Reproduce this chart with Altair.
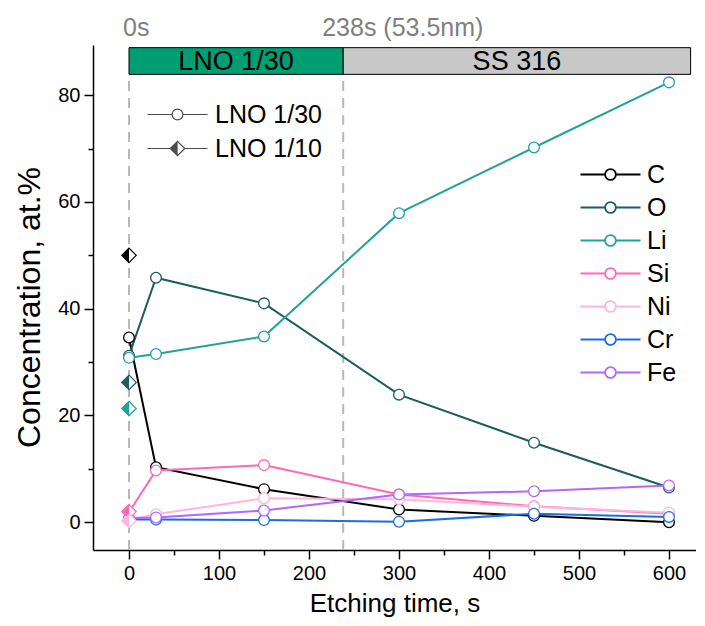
import altair as alt
import pandas as pd

# ---------------- data ----------------
times = [0, 30, 150, 300, 450, 600]
elements = ["C", "O", "Li", "Si", "Ni", "Cr", "Fe"]
conc_C = [34.6, 10.3, 6.2, 2.4, 1.2, 0.0]
conc_O = [31.2, 45.8, 41.0, 23.9, 14.9, 6.5]
conc_Li = [30.8, 31.5, 34.8, 57.9, 70.2, 82.4]
conc_Si = [1.9, 9.7, 10.7, 5.2, 3.0, 1.6]
conc_Ni = [0.4, 1.5, 4.5, 4.3, 2.9, 1.8]
conc_Cr = [0.5, 0.5, 0.4, 0.1, 1.6, 1.0]
conc_Fe = [0.8, 0.9, 2.2, 5.2, 5.8, 6.9]
element_colors = ["#000000", "#1b5e57", "#20a39a", "#ff69b4", "#ffb6d9", "#1a6fe0", "#b266ff"]

lno110_elements = ["C", "O", "Li", "Si", "Ni"]
lno110_values = [50.0, 26.2, 21.3, 2.0, 0.3]
lno110_time = 0

samples = ["LNO 1/30", "LNO 1/10"]
stage_names = ["LNO 1/30", "SS 316"]
stage_start = [0, 238]
stage_end = [238, 624]
stage_colors = ["#009E73", "#C8C8C8"]
boundary_times = [0, 238]
boundary_labels = ["0s", "238s (53.5nm)"]

# ---------------- layout constants ----------------
FONT = "Liberation Sans"
X_MIN, X_MAX = -40, 630
Y_MIN, Y_MAX = -5.2, 89.4
BAR_Y0, BAR_Y1 = 83.9, 88.9
LABEL_Y = 92.5
LABEL_DX = [-6, -21]

series = dict(zip(elements, [conc_C, conc_O, conc_Li, conc_Si, conc_Ni, conc_Cr, conc_Fe]))
df = pd.DataFrame([
    {"element": e, "time": t, "value": v}
    for e in elements for t, v in zip(times, series[e])
])
df_d = pd.DataFrame({"element": lno110_elements, "time": [lno110_time] * len(lno110_elements),
                     "value": lno110_values})
df_stage = pd.DataFrame({"name": stage_names, "start": stage_start, "end": stage_end})
df_bound = pd.DataFrame({"time": boundary_times, "label": boundary_labels})
df_samples = pd.DataFrame({"sample": samples})

xs = alt.Scale(domain=[X_MIN, X_MAX], nice=False, zero=False)
ys = alt.Scale(domain=[Y_MIN, Y_MAX], nice=False, zero=False)
cs = alt.Scale(domain=elements, range=element_colors)

x_axis = alt.Axis(
    values=list(range(0, 601, 50)),
    labelExpr="datum.value % 100 === 0 ? datum.label : ''",
    tickSize={"condition": {"test": "datum.value % 100 === 0", "value": 9}, "value": 5},
    title="Etching time, s", grid=False, domainColor="black", domainWidth=1.5,
    tickColor="black", tickWidth=1.5, labelFontSize=20, labelColor="black",
    labelFont=FONT, titleFont=FONT, titleFontSize=26, titleFontWeight="normal",
    titleColor="black", labelPadding=4, titlePadding=7, labelOverlap=False,
)
y_axis = alt.Axis(
    values=list(range(0, 81, 10)),
    labelExpr="datum.value % 20 === 0 ? datum.label : ''",
    tickSize={"condition": {"test": "datum.value % 20 === 0", "value": 9}, "value": 5},
    title="Concentration, at.%", grid=False, domainColor="black", domainWidth=1.5,
    tickColor="black", tickWidth=1.5, labelFontSize=20, labelColor="black",
    labelFont=FONT, titleFont=FONT, titleFontSize=32, titleFontWeight="normal",
    titleColor="black", labelPadding=4, titlePadding=11, titleY=262, labelOverlap=False,
)

CIRCLE_PATH = ("M-5,0L-0.9,0M0.9,0L5,0"
               "M0.9,0A0.9,0.9,0,1,1,-0.9,0A0.9,0.9,0,1,1,0.9,0Z")
R = 1.2
hatch = "".join(
    f"M{x:.2f},{-(R - abs(x)):.2f}L{x:.2f},{(R - abs(x)):.2f}"
    for x in [-0.08, -0.2, -0.32, -0.44, -0.56, -0.68, -0.8, -0.92, -1.04]
)
DIAMOND_PATH = f"M-5,0L-{R},0M{R},0L5,0M0,-{R}L{R},0L0,{R}L-{R},0Z" + hatch
HALF_DIAMOND = "M0,-1L-1,0L0,1Z"

# ---------------- layers ----------------
bars = alt.Chart(df_stage).mark_rect(stroke="black", strokeWidth=1).encode(
    x=alt.X("start:Q", scale=xs, axis=x_axis),
    x2="end:Q",
    y=alt.YDatum(BAR_Y0, scale=ys, axis=y_axis),
    y2=alt.Y2Datum(BAR_Y1),
    fill=alt.Fill("name:N", scale=alt.Scale(domain=stage_names, range=stage_colors), legend=None),
)
bar_text = alt.Chart(df_stage).transform_calculate(
    mid="(datum.start + datum.end) / 2"
).mark_text(font=FONT, fontSize=27, color="black", baseline="middle", dy=1).encode(
    x=alt.X("mid:Q", scale=xs, axis=x_axis),
    y=alt.YDatum((BAR_Y0 + BAR_Y1) / 2, scale=ys, axis=y_axis),
    text="name:N",
)
rules = alt.Chart(df_bound).mark_rule(color="#b8b8b8", strokeDash=[10, 7], strokeWidth=2).encode(
    x=alt.X("time:Q", scale=xs, axis=x_axis),
    y=alt.YDatum(Y_MIN, scale=ys, axis=y_axis),
    y2=alt.Y2Datum(BAR_Y0),
)
top_texts = []
for lbl, dx in zip(boundary_labels, LABEL_DX):
    top_texts.append(
        alt.Chart(df_bound).transform_filter(alt.datum.label == lbl).mark_text(
            font=FONT, fontSize=25, color="#7f7f7f", align="left", baseline="middle", dx=dx
        ).encode(
            x=alt.X("time:Q", scale=xs, axis=x_axis),
            y=alt.YDatum(LABEL_Y, scale=ys, axis=y_axis),
            text="label:N",
        )
    )

color_legend = alt.Legend(
    orient="none", legendX=505, legendY=117, title=None, padding=0,
    symbolType=CIRCLE_PATH, symbolSize=144, symbolStrokeWidth=1.8,
    labelFont=FONT, labelFontSize=25, labelColor="black", labelOffset=24, rowPadding=7,
)
lines = alt.Chart(df).mark_line(strokeWidth=2).encode(
    x=alt.X("time:Q", scale=xs, axis=x_axis),
    y=alt.Y("value:Q", scale=ys, axis=y_axis),
    color=alt.Color("element:N", scale=cs, legend=color_legend, sort=elements),
)
points = alt.Chart(df).mark_point(
    shape="circle", filled=False, fill="white", size=115, strokeWidth=1.3, opacity=1
).encode(
    x=alt.X("time:Q", scale=xs, axis=x_axis),
    y=alt.Y("value:Q", scale=ys, axis=y_axis),
    color=alt.Color("element:N", scale=cs, legend=None),
)
diam_bg = alt.Chart(df_d).mark_point(
    shape="diamond", filled=False, fill="white", size=210, strokeWidth=1.2, opacity=1
).encode(
    x=alt.X("time:Q", scale=xs, axis=x_axis),
    y=alt.Y("value:Q", scale=ys, axis=y_axis),
    color=alt.Color("element:N", scale=cs, legend=None),
)
diam_half = alt.Chart(df_d).transform_calculate(el2="datum.element").mark_point(
    shape=HALF_DIAMOND, filled=True, size=210, opacity=1, strokeWidth=0
).encode(
    x=alt.X("time:Q", scale=xs, axis=x_axis),
    y=alt.Y("value:Q", scale=ys, axis=y_axis),
    fill=alt.Fill("el2:N", scale=cs, legend=None),
)
shape_legend = alt.Chart(df_samples).mark_point(
    clip=True, filled=False, color="black", size=144, strokeWidth=1.2
).encode(
    x=alt.XDatum(-1000, scale=xs, axis=x_axis),
    y=alt.YDatum(0, scale=ys, axis=y_axis),
    shape=alt.Shape(
        "sample:N",
        scale=alt.Scale(domain=samples, range=[CIRCLE_PATH, DIAMOND_PATH]),
        sort=samples,
        legend=alt.Legend(
            orient="none", legendX=72, legendY=57, title=None, padding=0,
            symbolSize=144, symbolStrokeWidth=1.2, symbolStrokeColor="black",
            labelFont=FONT, labelFontSize=25, labelColor="black", labelOffset=25, rowPadding=8,
        ),
    ),
)

chart = alt.layer(
    bars, bar_text, rules, *top_texts, lines, points, diam_bg, diam_half, shape_legend
).resolve_scale(fill="independent").properties(
    width=603, height=505,
    padding={"left": 85, "top": 37, "right": 0, "bottom": 68},
    autosize=alt.AutoSizeParams(type="none"),
).configure(font=FONT).configure_view(stroke=None)

chart.save("out.html", embed_options={"renderer": "svg", "actions": False})
